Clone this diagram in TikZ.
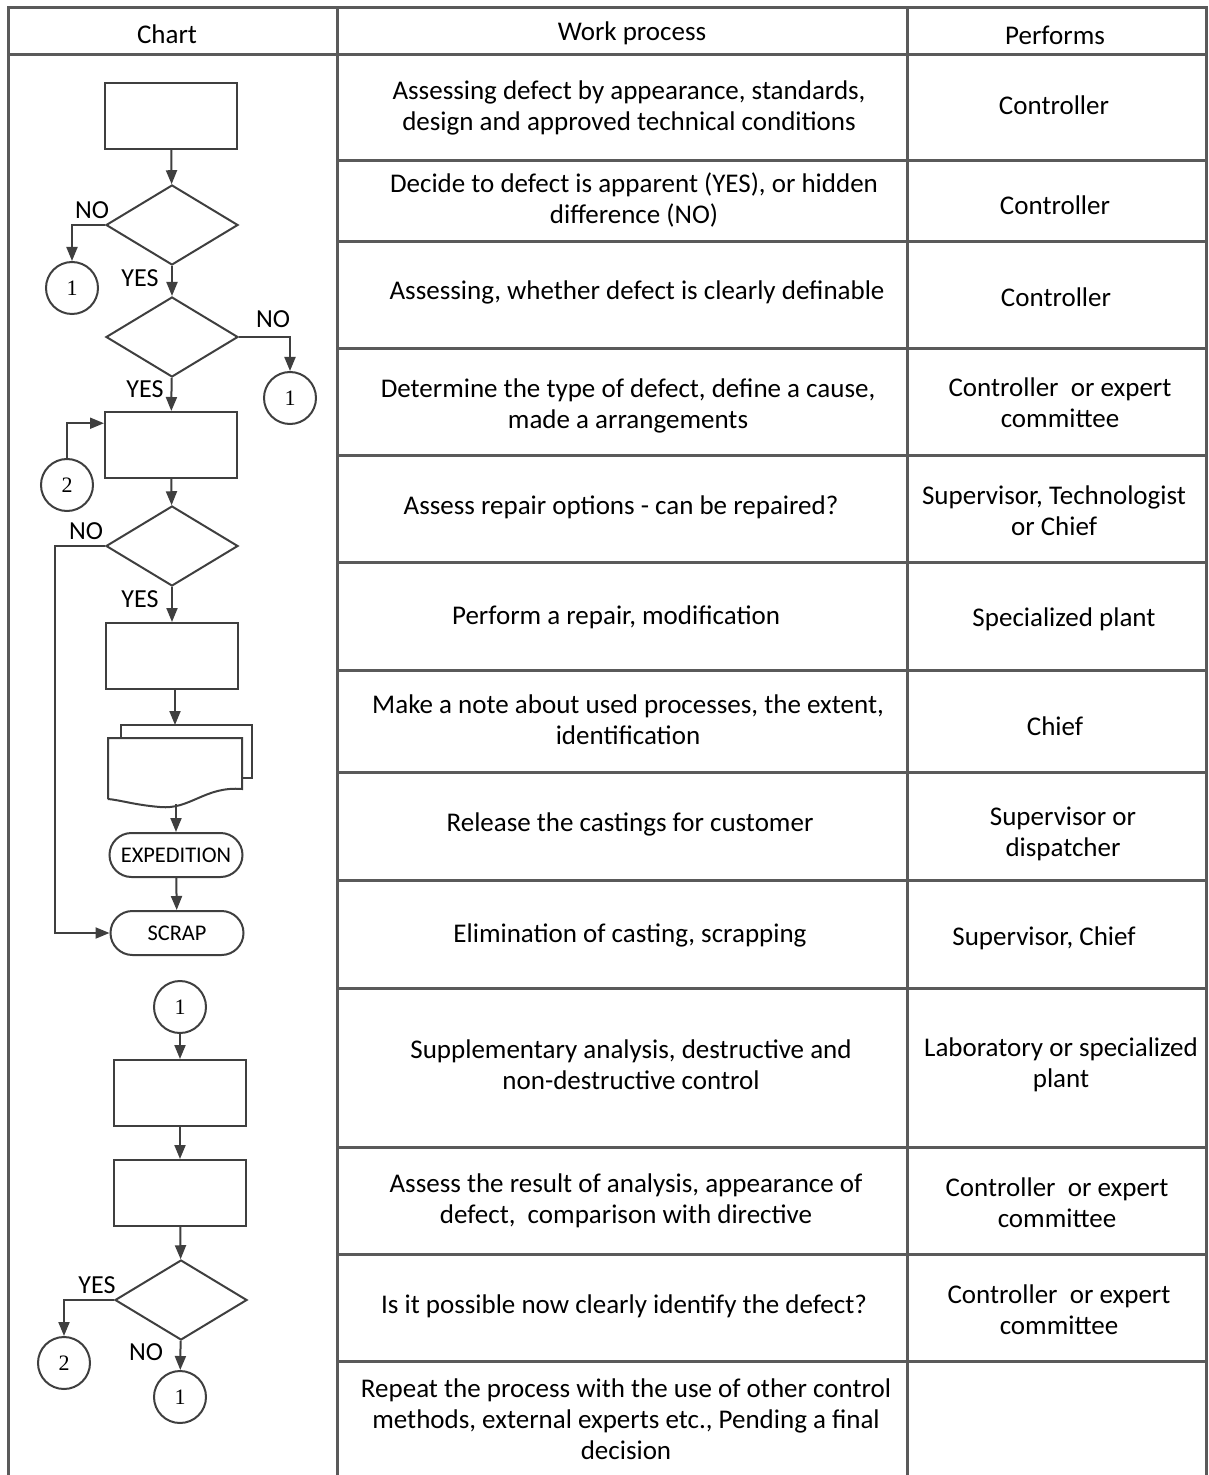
\documentclass[tikz,border=0pt]{standalone}
\usepackage{fontspec}
\setmainfont{Carlito}
\newfontfamily\numfont{Liberation Serif}
\usetikzlibrary{shapes.geometric,arrows.meta}
\definecolor{tablegray}{HTML}{5A5A5A}
\definecolor{linegray}{HTML}{3F3F3F}
\tikzset{
  grid/.style={line width=1.5pt, draw=tablegray},
  flow/.style={line width=1pt, draw=linegray},
  arr/.style={flow, -{Triangle[length=7pt,width=5.5pt]}},
  proc/.style={flow, rectangle, minimum width=66pt, minimum height=33pt, inner sep=0pt},
  decide/.style={flow, diamond, minimum width=66pt, minimum height=40pt, inner sep=0pt},
  conn/.style={flow, circle, minimum size=26pt, inner sep=0pt, font=\numfont\fontsize{11}{11}\selectfont},
  term/.style={flow, rectangle, rounded corners=11pt, minimum width=66.5pt, minimum height=22pt, font=\fontsize{11.2}{12}\selectfont},
  cell/.style={align=center, font=\fontsize{13.5}{15.5}\selectfont},
  lbl/.style={inner sep=0pt, font=\fontsize{13}{14}\selectfont}
}
\begin{document}
\begin{tikzpicture}[x=0.5pt, y=-0.5pt]
\useasboundingbox (0,0) rectangle (1208,1475);

% Table
\draw[grid] (8,1475) -- (8,8) -- (1206,8) -- (1206,1475);
\draw[grid] (8,55) -- (1206,55);
\foreach \x in {337,907} \draw[grid] (\x,8) -- (\x,1475);
\foreach \y in {161,242,349,456,562,670,772,880,988,1147,1254,1361}
  \draw[grid] (337,\y) -- (1206,\y);

% Header
\node[cell] (hchart) at (167,34) {Chart};
\node[cell] (hwork) at (632,33) {Work process};
\node[cell] (hperf) at (1055,35) {Performs};

% Work process
\node[cell] (w1) at (629,108) {Assessing defect by appearance, standards,\\design and approved technical conditions};
\node[cell] (w2) at (634,200) {Decide to defect is apparent (YES), or hidden\\difference (NO)};
\node[cell] (w3) at (637,292) {Assessing, whether defect is clearly definable};
\node[cell] (w4) at (628,406) {Determine the type of defect, define a cause,\\made a arrangements};
\node[cell] (w5) at (621,507) {Assess repair options - can be repaired?};
\node[cell] (w6) at (616,617) {Perform a repair, modification};
\node[cell] (w7) at (628,720) {Make a note about used processes, the extent,\\identification};
\node[cell] (w8) at (630,824) {Release the castings for customer};
\node[cell] (w9) at (630,935) {Elimination of casting, scrapping};
\node[cell] (w10) at (631,1065) {Supplementary analysis, destructive and\\non-destructive control};
\node[cell] (w11) at (626,1201) {Assess the result of analysis, appearance of\\defect,~ comparison with directive};
\node[cell] (w12) at (624,1306) {Is it possible now clearly identify the defect?};
\node[cell] (w13) at (626,1419) {Repeat the process with the use of other control\\methods, external experts etc., Pending a final\\decision};

% Performs
\node[cell] (p1) at (1054,105) {Controller};
\node[cell] (p2) at (1055,205) {Controller};
\node[cell] (p3) at (1056,297) {Controller};
\node[cell] (p4) at (1060,403) {Controller~ or expert\\committee};
\node[cell] (p5) at (1054,511) {Supervisor, Technologist\\or Chief};
\node[cell] (p6) at (1064,619) {Specialized plant};
\node[cell] (p7) at (1055,726) {Chief};
\node[cell] (p8) at (1063,834) {Supervisor or\\dispatcher};
\node[cell] (p9) at (1044,938) {Supervisor, Chief};
\node[cell] (p10) at (1061,1065) {Laboratory or specialized\\plant};
\node[cell] (p11) at (1057,1203) {Controller~ or expert\\committee};
\node[cell] (p12) at (1059,1310) {Controller~ or expert\\committee};

% Chart, upper part
\node[proc] (box1) at (171,116) {};
\node[decide] (dec1) at (172,225) {};
\node[conn] (c1a) at (72,288) {1};
\node[decide] (dec2) at (172,337) {};
\node[conn] (c1b) at (290,398) {1};
\node[proc] (box2) at (171,445) {};
\node[conn] (c2a) at (67,485) {2};
\node[decide] (dec3) at (172,546) {};
\node[proc] (box3) at (172,656) {};
\node[term] (exped) at (176,855) {EXPEDITION};
\node[term] (scrap) at (177,933) {SCRAP};

% Documents
\draw[flow, fill=white] (121,778) -- (121,725) -- (252,725) -- (252,778) -- (236,778);
\draw[flow, fill=white] (108,799) -- (108,738) -- (242,738) -- (242,789)
  .. controls (205,786) and (190,810) .. (160,807) .. controls (135,805) and (120,800) .. (108,799);
\coordinate (doctop) at (175,725);
\coordinate (docbot) at (176,804);

\draw[arr] (box1) -- (dec1);
\draw[arr] (dec1.west) -| (c1a);
\draw[arr] (dec1) -- (dec2);
\draw[arr] (dec2.east) -| (c1b);
\draw[arr] (dec2) -- (box2);
\draw[arr] (c2a) |- (box2.162);
\draw[arr] (box2) -- (dec3);
\draw[arr] (dec3.west) -- ++(-50,0) |- (scrap);
\draw[arr] (dec3) -- (box3);
\draw[arr] (box3.south -| doctop) -- (doctop);
\draw[arr] (docbot) -- (exped.north -| docbot);
\draw[arr] (exped) -- (scrap);

\node[lbl] (no1) at (92,210) {NO};
\node[lbl] (yes1) at (140,278) {YES};
\node[lbl] (no2) at (273,319) {NO};
\node[lbl] (yes2) at (145,389) {YES};
\node[lbl] (no3) at (86,531) {NO};
\node[lbl] (yes3) at (140,599) {YES};

% Chart, lower part
\node[conn] (c1c) at (180,1007) {1};
\node[proc] (box4) at (180,1093) {};
\node[proc] (box5) at (180,1193) {};
\node[decide] (dec4) at (181,1300) {};
\node[conn] (c2b) at (64,1363) {2};
\node[conn] (c1d) at (180,1397) {1};

\draw[arr] (c1c) -- (box4);
\draw[arr] (box4) -- (box5);
\draw[arr] (box5) -- (dec4);
\draw[arr] (dec4.west) -| (c2b);
\draw[arr] (dec4) -- (c1d);

\node[lbl] (yes4) at (97,1285) {YES};
\node[lbl] (no4) at (146,1352) {NO};
\end{tikzpicture}
\end{document}
